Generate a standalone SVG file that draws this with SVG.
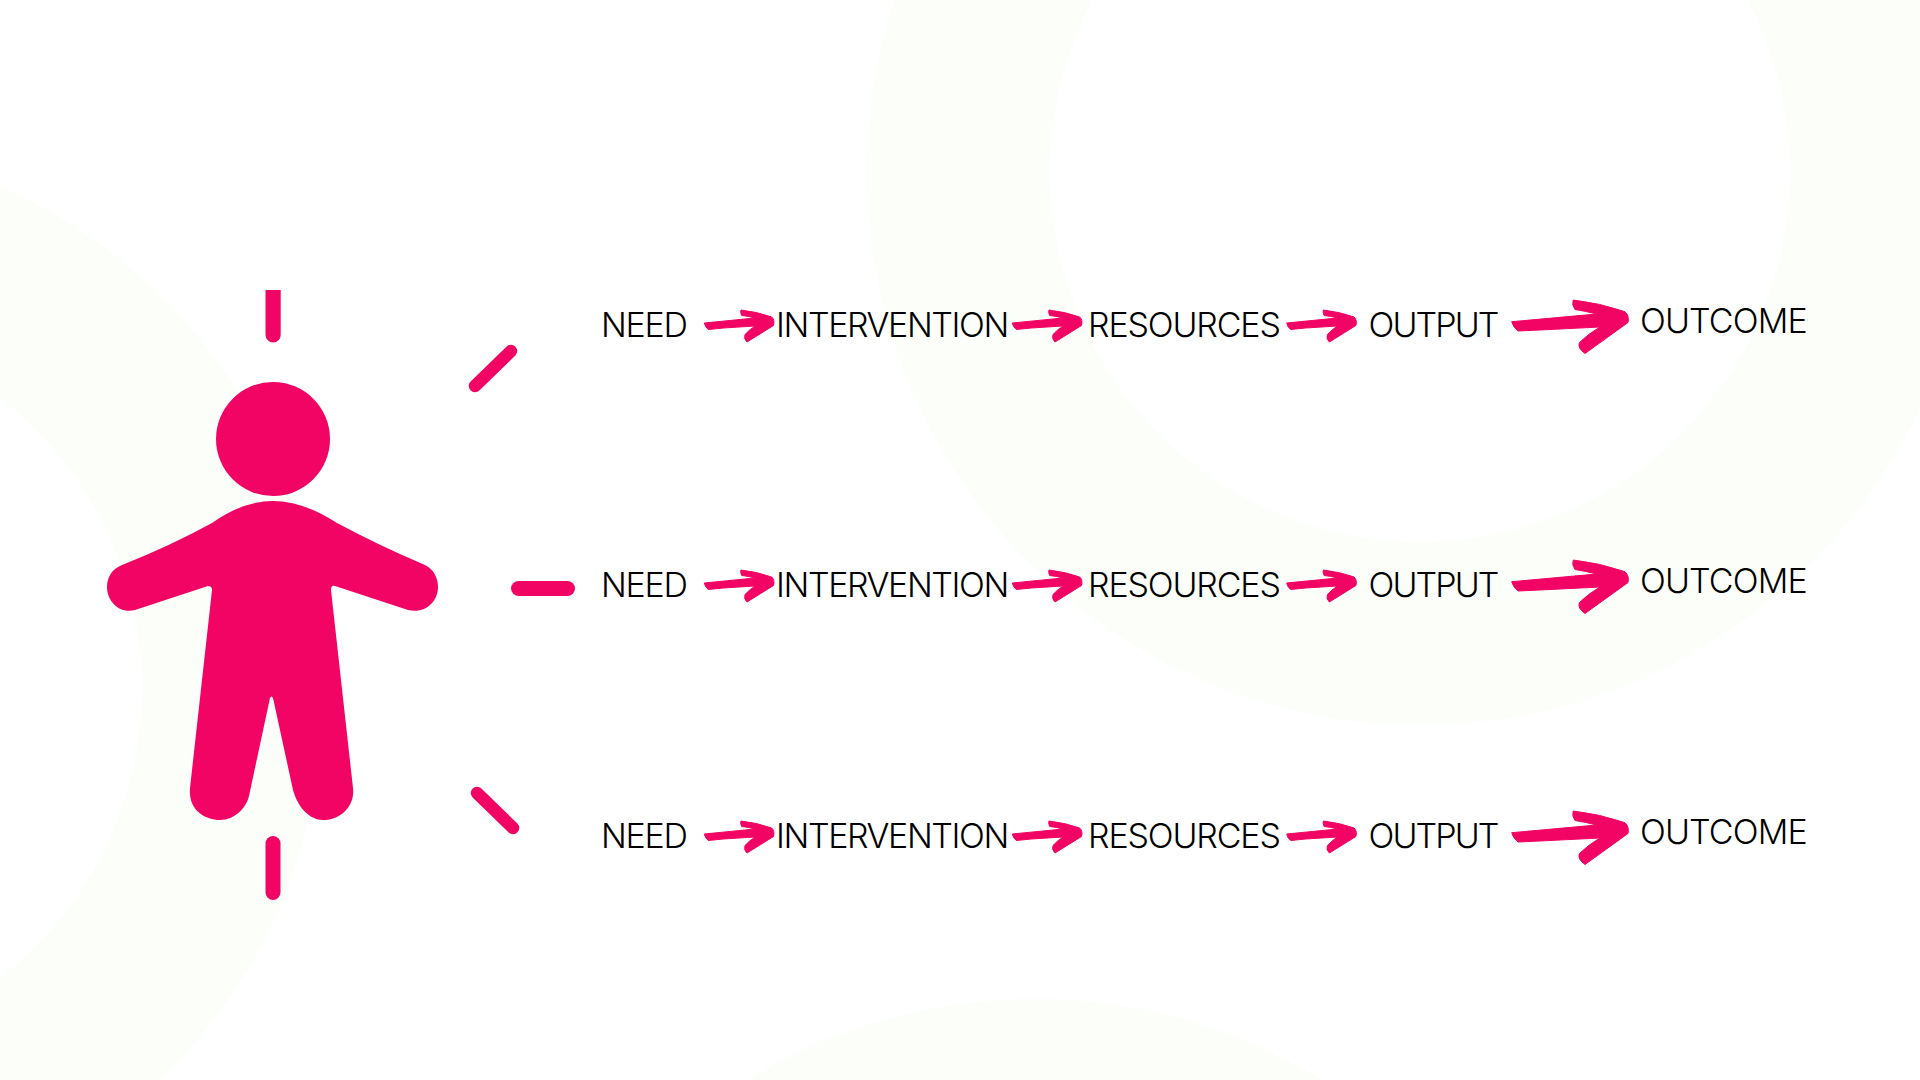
<svg xmlns="http://www.w3.org/2000/svg" xmlns:xlink="http://www.w3.org/1999/xlink" width="1920" height="1080" viewBox="0 0 1920 1080">
<style>
.bg{fill:none;stroke:#FCFEF9}
.pink{fill:#F10463}
.arrow{fill:#F10463;stroke:#F10463;stroke-width:1;stroke-linejoin:round}
.ray{fill:none;stroke:#F10463;stroke-width:15;stroke-linecap:round}
.diag{stroke-width:12.500px}
.t{font-family:"Inter","Liberation Sans",sans-serif;font-size:34px;font-weight:300;fill:#000}
.need{letter-spacing:-1.3px}
.int{letter-spacing:-1.4px}
.res{letter-spacing:-1.15px}
.out{letter-spacing:-1.9px}
.com{letter-spacing:-.85px}
</style>
<defs>
<path id="arrow-s" class="arrow" d="M704.3 323L755 318Q748 316 741.7 315.500Q740 312 741 310Q758 312 771.700 317Q775 320 773.500 325.500L747 342Q743.500 339 745 334.500Q749 330 755 326L723.300 328L708.300 329.500Q705 327 704.300 323Z"/>
<path id="arrow-l" class="arrow" d="M1511.700 321.700L1596.700 314Q1585 311 1575 309.500Q1571.500 305 1573.300 300Q1600 303 1625 311.700Q1629.500 316 1628 322.500L1585 353.500Q1577 348 1579.500 342.500Q1588 334 1600 327L1550 329.500L1518 331Q1513 327 1511.700 321.700Z"/>
</defs>
<rect width="1920" height="1080" fill="#FFFFFF"/>
<g id="background">
<circle class="bg" cx="1420" cy="172" r="461.500" stroke-width="183"/>
<circle class="bg" cx="-225" cy="688" r="458.500" stroke-width="183"/>
<circle class="bg" cx="1035" cy="1552" r="461.500" stroke-width="183"/>
</g>
<g id="person">
<circle class="pink" cx="273" cy="439" r="57"/>
<path class="pink" d="M273 501Q243 501 212 523Q170 546 122 565C112 569 107 577 107 587C107 602 120 614 135 610L208 586Q212 586 212 590L190 788C188 810 205 820 220 820C235 820 246 808 249 796L270 698Q271.500 695 273 698L293 790C298 808 310 820 323 820C342 820 355 805 353 788L331 590Q331 585 335 586L408 610C425 614 438 602 438 587C438 577 433 569 425 565Q380 546 337 523Q303 501 273 501Z"/>
</g>
<g id="rays">
<path class="pink" d="M265.500 290H280.700V335A7.600 7.600 0 0 1 265.500 335Z"/>
<path class="ray" d="M273 843.500V892.500"/>
<path class="ray diag" d="M475 386L511 351"/>
<path class="ray" d="M518.500 588.500H567.500"/>
<path class="ray diag" d="M477 793L513 828"/>
</g>
<g id="connectors">
<g id="row1-arrows"><use href="#arrow-s"/><use href="#arrow-s" x="308"/><use href="#arrow-s" x="582.400"/><use href="#arrow-l"/></g>
<g id="row2-arrows" transform="translate(0 260)"><use href="#arrow-s"/><use href="#arrow-s" x="308"/><use href="#arrow-s" x="582.400"/><use href="#arrow-l"/></g>
<g id="row3-arrows" transform="translate(0 511)"><use href="#arrow-s"/><use href="#arrow-s" x="308"/><use href="#arrow-s" x="582.400"/><use href="#arrow-l"/></g>
</g>
<g id="row1-need"><text class="t need" x="601" y="337">NEED</text></g>
<g id="row1-intervention"><text class="t int" x="776" y="337">INTERVENTION</text></g>
<g id="row1-resources"><text class="t res" x="1088" y="337">RESOURCES</text></g>
<g id="row1-output"><text class="t out" x="1368.500" y="337">OUTPUT</text></g>
<g id="row1-outcome"><text class="t com" x="1640" y="333">OUTCOME</text></g>
<g id="row2-need"><text class="t need" x="601" y="597">NEED</text></g>
<g id="row2-intervention"><text class="t int" x="776" y="597">INTERVENTION</text></g>
<g id="row2-resources"><text class="t res" x="1088" y="597">RESOURCES</text></g>
<g id="row2-output"><text class="t out" x="1368.500" y="597">OUTPUT</text></g>
<g id="row2-outcome"><text class="t com" x="1640" y="593">OUTCOME</text></g>
<g id="row3-need"><text class="t need" x="601" y="848">NEED</text></g>
<g id="row3-intervention"><text class="t int" x="776" y="848">INTERVENTION</text></g>
<g id="row3-resources"><text class="t res" x="1088" y="848">RESOURCES</text></g>
<g id="row3-output"><text class="t out" x="1368.500" y="848">OUTPUT</text></g>
<g id="row3-outcome"><text class="t com" x="1640" y="844">OUTCOME</text></g>
</svg>
